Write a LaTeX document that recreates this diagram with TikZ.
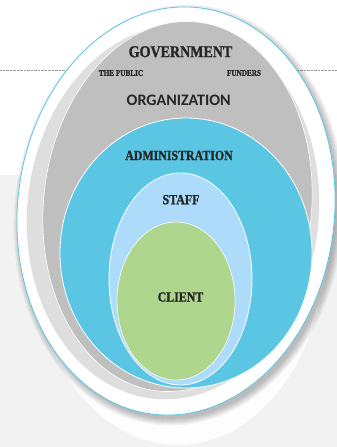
\documentclass[tikz,border=0pt]{standalone}
\usepackage{fontspec}
\newfontfamily\ringserif[FakeStretch=0.85, FakeBold=1.2]{Liberation Serif}
\newfontfamily\ringsans{Carlito}
\definecolor{ringblue}{HTML}{5BC6E4}
\definecolor{staffblue}{HTML}{ADDCFB}
\definecolor{clientgreen}{HTML}{AED68D}
\definecolor{orggray}{HTML}{BFBFBF}
\definecolor{ringgray}{HTML}{DEDEDE}
\definecolor{pagegray}{HTML}{F2F2F2}
\definecolor{labeltext}{HTML}{262626}
\begin{document}
\begin{tikzpicture}[x=1pt, y=1pt,
  ring/.style={draw=white, line width=.8pt},
  lbl/.style={inner sep=0pt, text=labeltext, font=\ringserif\bfseries\fontsize{14}{14}\selectfont},
  small/.style={lbl, font=\ringserif\bfseries\fontsize{8.5}{8.5}\selectfont},
  ]
\useasboundingbox (0,0) rectangle (337,447);
%Hintergrund
\fill[white] (0,0) rectangle (337,447);
\fill[pagegray] (0,0) rectangle (337,272);
\draw[gray!80, densely dotted] (0,376.5) -- (337,376.5);
%Spiegelung und Schatten
\fill[white, opacity=.9] (178,211) ellipse [x radius=150, y radius=209];
\foreach \s in {1,...,8}
  \fill[black, opacity=.035, rotate around={-6:(179,232)}] (179,232) ellipse [x radius=157+\s, y radius=203+\s];
%Ellipsen
\filldraw[fill=white, draw=ringblue, line width=.8pt, rotate around={-6:(176,236)}] (176,236) ellipse [x radius=158.5, y radius=204.5];
\filldraw[ring, fill=ringgray, line width=.5pt, rotate around={-6:(173,235)}] (173,235) ellipse [x radius=146, y radius=188];
\filldraw[ring, fill=orggray, line width=.6pt, rotate around={-6:(177.5,240.5)}] (177.5,240.5) ellipse [x radius=134, y radius=185.5];
\filldraw[ring, fill=ringblue] (186,194) ellipse [x radius=126, y radius=135];
\filldraw[ring, fill=staffblue] (180.5,168) ellipse [x radius=71.5, y radius=106];
\filldraw[ring, draw=white!90!gray, fill=clientgreen] (176,146) ellipse [x radius=59, y radius=79];
%Beschriftung
\node[lbl, font=\ringserif\bfseries\fontsize{16.5}{16.5}\selectfont] (gov) at (180.5,395.2) {GOVERNMENT};
\node[small] (public) at (121,374) {THE PUBLIC};
\node[small] (funders) at (244,374) {FUNDERS};
\node[lbl, font=\ringsans\bfseries\fontsize{16}{16}\selectfont] (org) at (178.7,347) {ORGANIZATION};
\node[lbl] (admin) at (179,291.5) {ADMINISTRATION};
\node[lbl] (staff) at (181,247.3) {STAFF};
\node[lbl] (client) at (180.5,150) {CLIENT};
\end{tikzpicture}
\end{document}
